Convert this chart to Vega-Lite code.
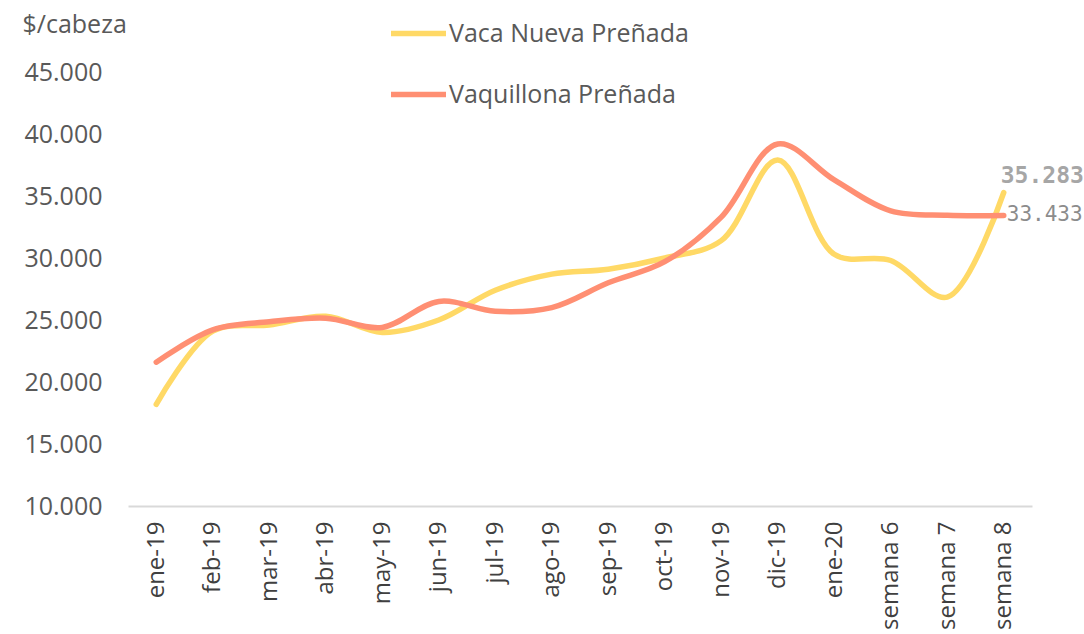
{
  "$schema": "https://vega.github.io/schema/vega-lite/v6.json",
  "autosize": {"type": "none"},
  "padding": {"left": 128, "top": 72, "right": 52, "bottom": 128},
  "width": 904,
  "height": 434,
  "background": "white",
  "config": {"view": {"stroke": null}, "font": "Open Sans"},
  "data": {
    "values": [
      {"mes": "ene-19", "serie": "Vaca Nueva Preñada", "valor": 18200},
      {"mes": "feb-19", "serie": "Vaca Nueva Preñada", "valor": 24100},
      {"mes": "mar-19", "serie": "Vaca Nueva Preñada", "valor": 24600},
      {"mes": "abr-19", "serie": "Vaca Nueva Preñada", "valor": 25300},
      {"mes": "may-19", "serie": "Vaca Nueva Preñada", "valor": 24000},
      {"mes": "jun-19", "serie": "Vaca Nueva Preñada", "valor": 25000},
      {"mes": "jul-19", "serie": "Vaca Nueva Preñada", "valor": 27400},
      {"mes": "ago-19", "serie": "Vaca Nueva Preñada", "valor": 28700},
      {"mes": "sep-19", "serie": "Vaca Nueva Preñada", "valor": 29100},
      {"mes": "oct-19", "serie": "Vaca Nueva Preñada", "valor": 30000},
      {"mes": "nov-19", "serie": "Vaca Nueva Preñada", "valor": 31400},
      {"mes": "dic-19", "serie": "Vaca Nueva Preñada", "valor": 37900},
      {"mes": "ene-20", "serie": "Vaca Nueva Preñada", "valor": 30300},
      {"mes": "semana 6", "serie": "Vaca Nueva Preñada", "valor": 29800},
      {"mes": "semana 7", "serie": "Vaca Nueva Preñada", "valor": 26850},
      {"mes": "semana 8", "serie": "Vaca Nueva Preñada", "valor": 35283},
      {"mes": "ene-19", "serie": "Vaquillona Preñada", "valor": 21600},
      {"mes": "feb-19", "serie": "Vaquillona Preñada", "valor": 24200},
      {"mes": "mar-19", "serie": "Vaquillona Preñada", "valor": 24850},
      {"mes": "abr-19", "serie": "Vaquillona Preñada", "valor": 25150},
      {"mes": "may-19", "serie": "Vaquillona Preñada", "valor": 24400},
      {"mes": "jun-19", "serie": "Vaquillona Preñada", "valor": 26500},
      {"mes": "jul-19", "serie": "Vaquillona Preñada", "valor": 25700},
      {"mes": "ago-19", "serie": "Vaquillona Preñada", "valor": 26000},
      {"mes": "sep-19", "serie": "Vaquillona Preñada", "valor": 28000},
      {"mes": "oct-19", "serie": "Vaquillona Preñada", "valor": 29700},
      {"mes": "nov-19", "serie": "Vaquillona Preñada", "valor": 33300},
      {"mes": "dic-19", "serie": "Vaquillona Preñada", "valor": 39200},
      {"mes": "ene-20", "serie": "Vaquillona Preñada", "valor": 36300},
      {"mes": "semana 6", "serie": "Vaquillona Preñada", "valor": 33800},
      {"mes": "semana 7", "serie": "Vaquillona Preñada", "valor": 33450},
      {"mes": "semana 8", "serie": "Vaquillona Preñada", "valor": 33433}
    ]
  },
  "encoding": {
    "x": {
      "field": "mes", "type": "ordinal", "sort": null,
      "axis": {
        "title": null, "labelAngle": -90, "labelAlign": "right", "labelBaseline": "middle",
        "labelFontSize": 24, "labelColor": "#404040", "labelPadding": 15, "labelLimit": 200,
        "ticks": false, "domainColor": "#D9D9D9", "domainWidth": 2, "grid": false
      }
    },
    "y": {
      "field": "valor", "type": "quantitative",
      "scale": {"domain": [10000, 45000], "nice": false},
      "axis": {
        "title": "$/cabeza", "titleAngle": 0, "titleAlign": "left", "titleBaseline": "alphabetic",
        "titleX": -106, "titleY": -40, "titleFontSize": 25, "titleFontWeight": "normal", "titleColor": "#595959",
        "values": [10000, 15000, 20000, 25000, 30000, 35000, 40000, 45000],
        "labelExpr": "replace(format(datum.value, ','), ',', '.')",
        "labelFontSize": 25, "labelColor": "#595959", "labelPadding": 26,
        "domain": false, "ticks": false, "grid": false
      }
    }
  },
  "layer": [
    {
      "mark": {"type": "line", "interpolate": "catmull-rom", "strokeWidth": 5.5, "strokeCap": "round"},
      "encoding": {
        "color": {
          "field": "serie", "type": "nominal",
          "scale": {"domain": ["Vaca Nueva Preñada", "Vaquillona Preñada"], "range": ["#FFD966", "#FF8F73"]},
          "legend": {
            "title": null, "orient": "none", "legendX": 260, "legendY": -69,
            "symbolType": "stroke", "symbolSize": 3025, "symbolStrokeWidth": 5.5,
            "labelFontSize": 25, "labelColor": "#595959", "labelOffset": 0, "labelLimit": 400,
            "rowPadding": 17, "padding": 0
          }
        }
      }
    },
    {
      "transform": [
        {"filter": "datum.mes === 'semana 8' && datum.serie === 'Vaca Nueva Preñada'"},
        {"calculate": "replace(format(datum.valor, ','), ',', '.')", "as": "etiqueta"}
      ],
      "mark": {"type": "text", "align": "left", "baseline": "middle", "dx": -3, "dy": -16,
        "font": "DejaVu Sans Mono", "fontWeight": "bold", "fontSize": 23, "color": "#A6A6A6"},
      "encoding": {"text": {"field": "etiqueta"}}
    },
    {
      "transform": [
        {"filter": "datum.mes === 'semana 8' && datum.serie === 'Vaquillona Preñada'"},
        {"calculate": "replace(format(datum.valor, ','), ',', '.')", "as": "etiqueta"}
      ],
      "mark": {"type": "text", "align": "left", "baseline": "middle", "dx": 3, "dy": 0,
        "font": "DejaVu Sans Mono", "fontSize": 21, "color": "#8C8C8C"},
      "encoding": {"text": {"field": "etiqueta"}}
    }
  ]
}
